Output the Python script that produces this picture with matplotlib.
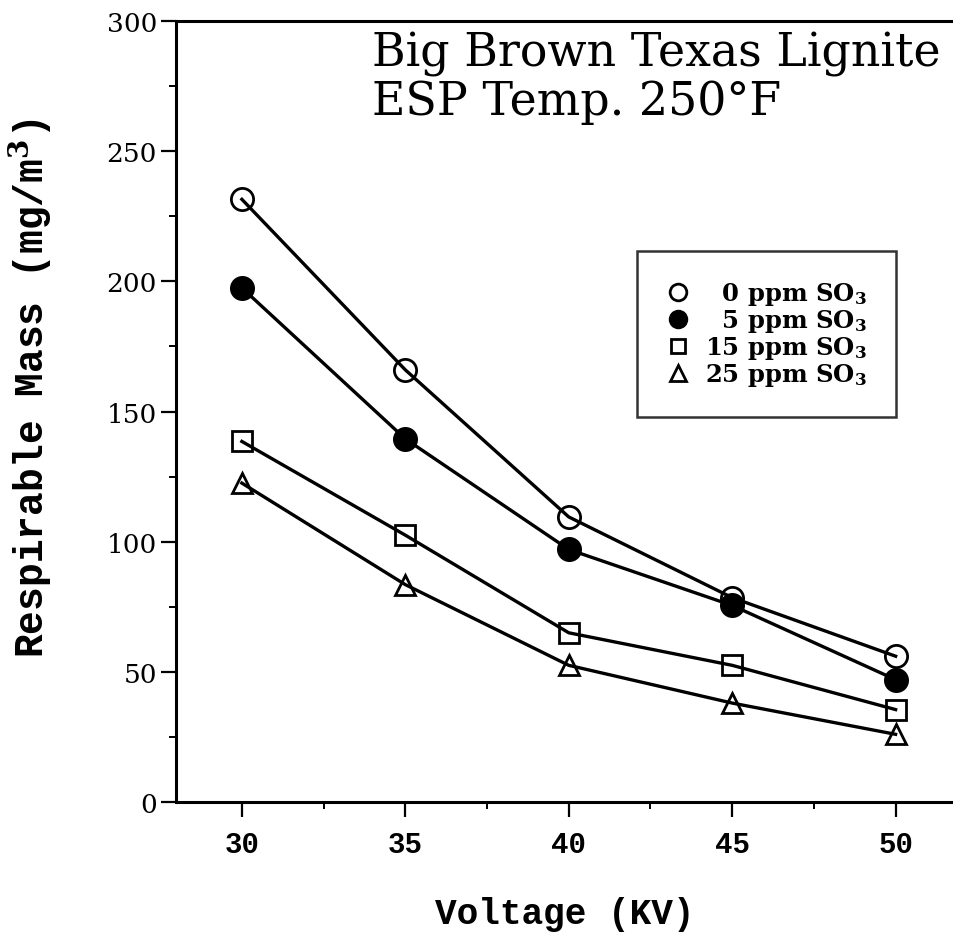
import matplotlib.pyplot as plt
from matplotlib.ticker import MultipleLocator

plt.rcParams['mathtext.fontset'] = 'dejavuserif'

# data
voltage = [30, 35, 40, 45, 50]
so3_0 = [231.5, 166, 109.5, 78.5, 56]
so3_5 = [197.5, 139.5, 97, 75.5, 47]
so3_15 = [138.5, 102.5, 65, 52.5, 35.5]
so3_25 = [122.5, 83.5, 52.5, 38, 26]
series_labels = ['\u20070 ppm SO$_\\mathbf{3}$', '\u20075 ppm SO$_\\mathbf{3}$',
                 '15 ppm SO$_\\mathbf{3}$', '25 ppm SO$_\\mathbf{3}$']
x_ticks = [30, 35, 40, 45, 50]
y_ticks = [0, 50, 100, 150, 200, 250, 300]

W, H = 954, 945
fig = plt.figure(figsize=(W / 100, H / 100), dpi=100)
ax = fig.add_axes([176.5 / W, 1 - 803 / H, 784.5 / W, 781 / H])

styles = [
    dict(marker='o', mfc='none', ms=16),
    dict(marker='o', mfc='black', ms=16),
    dict(marker='s', mfc='none', ms=14),
    dict(marker='^', mfc='none', ms=15),
]
for ys, st, lab in zip([so3_0, so3_5, so3_15, so3_25], styles, series_labels):
    ax.plot(voltage, ys, color='black', lw=2.4, mec='black', mew=2.0,
            label=lab, **st)

ax.set_xlim(28, 52)
ax.set_ylim(0, 300)
ax.set_xticks(x_ticks)
ax.set_yticks(y_ticks)
ax.xaxis.set_minor_locator(MultipleLocator(2.5))
ax.yaxis.set_minor_locator(MultipleLocator(25))

ax.spines['right'].set_visible(False)
for s in ['left', 'bottom', 'top']:
    ax.spines[s].set_linewidth(2.2)

ax.tick_params(which='major', direction='out', length=11, width=1.6)
ax.tick_params(which='minor', direction='out', length=5, width=1.4)
ax.tick_params(axis='x', which='major', pad=9)
ax.tick_params(axis='y', which='major', pad=3)
ax.tick_params(top=False, which='both')

for t in ax.get_yticklabels():
    t.set_fontfamily('DejaVu Serif')
    t.set_fontsize(19)
for t in ax.get_xticklabels():
    t.set_fontfamily('Liberation Mono')
    t.set_fontweight('bold')
    t.set_fontsize(21)

ax.set_ylabel('Respirable Mass (mg/m$^\\mathbf{3}$)', fontfamily='Liberation Mono',
              fontweight='bold', fontsize=28.5)
ax.yaxis.set_label_coords(-0.187, 0.531)
ax.yaxis.label.set_va('center')
ax.set_xlabel('Voltage (KV)', fontfamily='Liberation Mono', fontweight='bold',
              fontsize=26)
ax.xaxis.set_label_coords(0.495, -0.143)
ax.xaxis.label.set_va('center')

fig.text(372 / W, 1 - 32 / H, 'Big Brown Texas Lignite\nESP Temp. 250\u00b0F',
         fontfamily='DejaVu Serif', fontsize=33, va='top', ha='left',
         linespacing=1.08)

leg = ax.legend(loc='upper left', bbox_to_anchor=(637 / W, 1 - 252 / H),
                bbox_transform=fig.transFigure, borderaxespad=0,
                prop={'family': 'DejaVu Serif', 'weight': 'bold', 'size': 17.5},
                frameon=True, fancybox=False, handlelength=1.0,
                handletextpad=0.6, borderpad=1.2, labelspacing=0.0,
                markerscale=0.75)
leg.get_frame().set_edgecolor('black')
leg.get_frame().set_linewidth(1.8)
for h in leg.legend_handles:
    h.set_linestyle('none')

fig.savefig('out.png', dpi=100)
